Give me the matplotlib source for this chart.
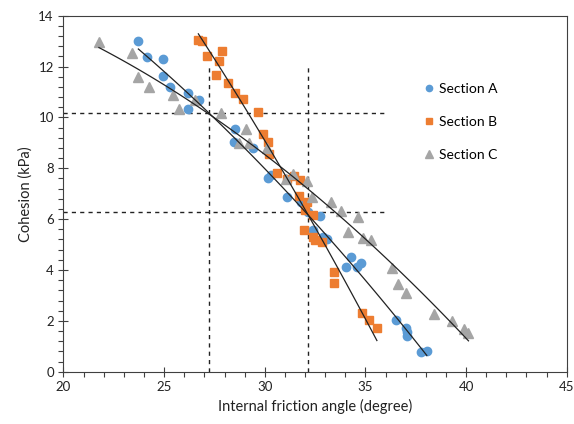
import matplotlib
matplotlib.use("Agg")
import matplotlib.pyplot as plt
import numpy as np
from matplotlib.ticker import MultipleLocator

plt.rcParams["font.family"] = ["Lato", "DejaVu Sans"]

# Section A (blue circles): friction angle (deg), cohesion (kPa)
a_phi = [23.72, 24.14, 24.93, 24.93, 25.29, 26.20, 26.75, 26.17, 28.52, 28.47,
         29.40, 30.18, 30.31, 31.09, 31.79, 32.17, 32.75, 32.39, 32.91, 33.08,
         34.27, 34.04, 34.57, 34.79, 36.51, 37.02, 37.06, 37.09, 37.75, 38.05]
a_coh = [13.02, 12.39, 12.30, 11.64, 11.20, 10.95, 10.70, 10.34, 9.53, 9.02,
         8.78, 7.60, 7.74, 6.88, 6.69, 6.29, 6.12, 5.57, 5.28, 5.20,
         4.52, 4.10, 4.13, 4.26, 2.03, 1.71, 1.55, 1.40, 0.79, 0.81]

# Section B (orange squares)
b_phi = [26.70, 26.87, 27.89, 27.15, 27.74, 27.58, 28.19, 28.52, 28.94, 29.65,
         29.93, 30.15, 30.23, 30.60, 31.12, 31.45, 31.75, 31.72, 32.09, 32.00,
         32.42, 31.97, 32.39, 32.50, 32.83, 33.46, 33.46, 34.85, 35.20, 35.57]
b_coh = [13.04, 13.00, 12.61, 12.41, 12.22, 11.67, 11.34, 10.95, 10.72, 10.20,
         9.35, 9.02, 8.56, 7.83, 7.59, 7.70, 7.54, 6.91, 6.69, 6.36,
         6.16, 5.57, 5.28, 5.18, 5.11, 3.91, 3.50, 2.30, 2.03, 1.71]

# Section C (grey triangles)
c_phi = [21.76, 23.42, 23.69, 24.26, 25.43, 25.73, 26.54, 27.81, 29.06, 28.74,
         29.23, 30.13, 31.06, 31.42, 32.12, 32.37, 33.28, 33.79, 34.65, 34.13,
         34.90, 35.28, 36.31, 36.64, 37.02, 38.41, 39.32, 39.91, 40.12]
c_coh = [12.98, 12.54, 11.60, 11.18, 10.90, 10.32, 10.68, 10.16, 9.53, 8.98,
         8.98, 8.78, 7.57, 7.77, 7.51, 6.86, 6.69, 6.32, 6.10, 5.50,
         5.24, 5.18, 4.07, 3.45, 3.08, 2.26, 1.99, 1.68, 1.53]

# reference (dashed) lines
ref_phi = [27.25, 32.15]
ref_coh = [10.18, 6.27]
ref_phi_top = 12.1
ref_coh_right = 35.9

series = [
    ("Section A", a_phi, a_coh, "o", "#5B9BD5", 6.0),
    ("Section B", b_phi, b_coh, "s", "#ED7D31", 5.6),
    ("Section C", c_phi, c_coh, "^", "#A5A5A5", 7.0),
]

fig = plt.figure(figsize=(5.74, 4.24), dpi=100)
ax = fig.add_axes([0.1106, 0.1233, 0.8767, 0.8397])

for name, x, y, m, col, ms in series:
    ax.plot(x, y, m, color=col, ms=ms, mec=col, ls="none", label=name, zorder=3)
    # quadratic trend line over the data range
    coef = np.polyfit(x, y, 2)
    xs = np.linspace(min(x), max(x), 100)
    ax.plot(xs, np.polyval(coef, xs), color="#222222", lw=0.9, zorder=4)

for xv in ref_phi:
    ax.plot([xv, xv], [0, ref_phi_top], color="#222222", lw=1.0,
            ls=(0, (3, 3)), zorder=2)
for yv in ref_coh:
    ax.plot([20, ref_coh_right], [yv, yv], color="#222222", lw=1.0,
            ls=(0, (3, 3)), zorder=2)

ax.set_xlim(20, 45)
ax.set_ylim(0, 14)
ax.xaxis.set_major_locator(MultipleLocator(5))
ax.xaxis.set_minor_locator(MultipleLocator(1))
ax.yaxis.set_major_locator(MultipleLocator(2))
ax.yaxis.set_minor_locator(MultipleLocator(0.4))
ax.tick_params(which="major", direction="inout", length=7, width=0.8,
               color="#404040", labelsize=9.5, labelcolor="#222222")
ax.tick_params(which="minor", direction="out", length=3.5, width=0.8,
               color="#404040")
for s in ax.spines.values():
    s.set_color("#404040")
    s.set_linewidth(0.8)

ax.set_xlabel("Internal friction angle (degree)", fontsize=10.5, color="#222222")
ax.set_ylabel("Cohesion (kPa)", fontsize=10.5, color="#222222")

ax.legend(loc="upper left", bbox_to_anchor=(0.705, 0.83), frameon=False,
          fontsize=10, handlelength=0.6, handletextpad=0.4, labelspacing=1.5,
          borderpad=0, markerscale=0.75)

fig.savefig("out.png", dpi=100)
